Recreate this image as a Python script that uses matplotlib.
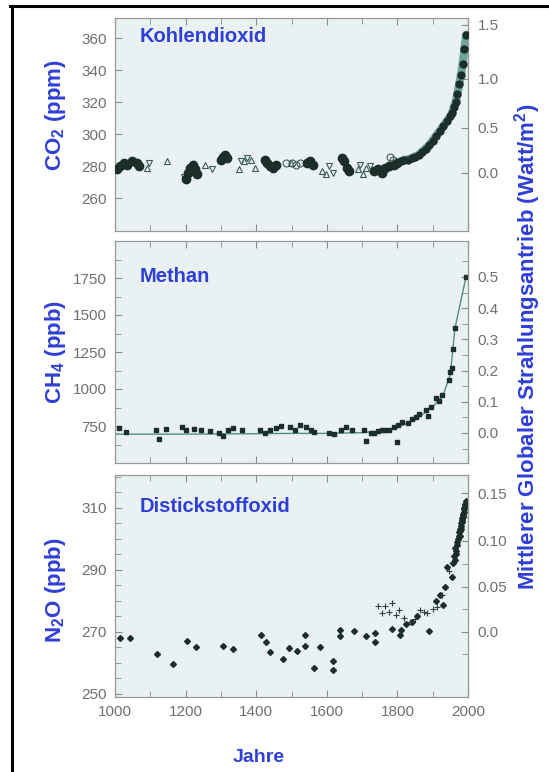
import numpy as np
import matplotlib.pyplot as plt
from matplotlib.ticker import MultipleLocator, FixedLocator, FixedFormatter
from matplotlib.lines import Line2D

plt.rcParams['font.family'] = ['Liberation Sans', 'DejaVu Sans']
plt.rcParams['mathtext.fontset'] = 'custom'
plt.rcParams['mathtext.rm'] = 'Liberation Sans:bold'
plt.rcParams['mathtext.it'] = 'Liberation Sans:bold'
plt.rcParams['mathtext.bf'] = 'Liberation Sans:bold'
plt.rcParams['mathtext.default'] = 'rm'

# --- CO2 (ppm) ---
co2_dome_years = [1006, 1015, 1025, 1035, 1048, 1062, 1068, 1200, 1207, 1213, 1220, 1226, 1232,
                  1300, 1306, 1312, 1318, 1424, 1432, 1440, 1447, 1455, 1545, 1552, 1560,
                  1644, 1650, 1656, 1662, 1735, 1745, 1755, 1765, 1775, 1790, 1798]
co2_dome = [278, 280, 282, 281, 283, 282, 280, 272, 276, 279, 281, 278, 275,
            284, 286, 287, 285, 284, 282, 280, 279, 281, 282, 283, 281,
            285, 283, 279, 277, 277, 278, 276, 279, 280, 281, 282]
co2_up_years = [1090, 1148, 1255, 1350, 1365, 1385, 1398, 1498, 1585, 1598, 1688, 1702, 1712]
co2_up = [279, 283, 281, 278, 283, 284, 279, 282, 277, 275, 278, 275, 279]
co2_dn_years = [1095, 1195, 1275, 1358, 1375, 1605, 1618, 1695, 1722]
co2_dn = [282, 273, 278, 283, 285, 280, 276, 281, 280]
co2_circ_years = [1485, 1500, 1512, 1525, 1778, 1788]
co2_circ = [282, 282, 281, 282, 286, 284]
co2_modern_years = [1800, 1810, 1820, 1830, 1840, 1850, 1860, 1870, 1880, 1890, 1900, 1910,
                    1920, 1930, 1940, 1950, 1955, 1960, 1965, 1970, 1975, 1980, 1985, 1990, 1995]
co2_modern = [282, 283, 284, 284, 285, 286, 287, 289, 291, 293, 296, 299,
              302, 305, 308, 311, 313, 317, 320, 325, 331, 337, 344, 353, 362]

# --- CH4 (ppb) ---
ch4_years = [1010, 1030, 1115, 1125, 1145, 1190, 1200, 1225, 1245, 1270, 1295, 1305, 1320, 1335,
             1360, 1410, 1425, 1440, 1455, 1470, 1495, 1510, 1525, 1540, 1555, 1565, 1605, 1620,
             1640, 1655, 1670, 1705, 1712, 1725, 1735, 1745, 1755, 1765, 1775, 1790, 1800, 1803,
             1812, 1830, 1840, 1852, 1862, 1880, 1888, 1895, 1910, 1918, 1925, 1945, 1949, 1955,
             1958, 1963, 1994]
ch4 = [735, 710, 720, 660, 730, 745, 725, 730, 720, 715, 700, 680, 725, 735,
       720, 720, 700, 725, 735, 750, 740, 725, 755, 740, 720, 710, 705, 695,
       725, 740, 725, 720, 650, 700, 705, 715, 720, 720, 725, 740, 640, 760,
       780, 770, 800, 810, 830, 860, 820, 880, 940, 920, 960, 1060, 1115, 1140,
       1270, 1410, 1755]
ch4_line_years = [1000, 1100, 1200, 1300, 1400, 1500, 1600, 1700, 1750, 1800, 1850, 1900,
                  1930, 1950, 1963, 1994]
ch4_line = [695, 695, 695, 697, 698, 700, 700, 705, 715, 740, 790, 880, 960, 1100, 1410, 1755]

# --- N2O (ppb) ---
n2o_dot_years = [1014, 1042, 1119, 1164, 1204, 1229, 1306, 1334, 1413, 1428, 1440, 1475, 1492,
                 1515, 1538, 1538, 1564, 1580, 1617, 1617, 1636, 1637, 1677, 1711, 1737, 1737,
                 1784, 1808, 1810, 1825, 1840, 1855, 1889, 1909, 1921, 1929, 1935, 1940, 1954]
n2o_dot = [268.0, 268.0, 262.8, 259.6, 267.0, 265.1, 265.4, 264.4, 269.1, 266.8, 263.4, 261.2,
           264.7, 263.7, 269.1, 265.4, 258.3, 265.1, 260.5, 257.6, 268.5, 270.5, 270.2, 268.6,
           269.6, 266.7, 270.9, 268.9, 270.5, 272.5, 273.0, 275.0, 270.2, 280.0, 281.9, 278.6,
           284.5, 290.9, 287.7]
n2o_plus_years = [1745, 1755, 1765, 1775, 1785, 1795, 1805, 1820, 1835, 1850, 1865, 1875, 1884,
                  1900, 1912, 1925, 1945, 1955]
n2o_plus = [278.3, 276.0, 278.3, 276.5, 279.3, 275.5, 276.9, 274.5, 273.0, 274.0, 277.0, 276.5,
            276.0, 277.5, 278.0, 282.0, 289.5, 292.2]
n2o_modern_years = [1958, 1960, 1962, 1964, 1965, 1966, 1968, 1970, 1972, 1974, 1975, 1976, 1977,
                    1978, 1979, 1980, 1981, 1982, 1983, 1984, 1985, 1986, 1987, 1988, 1989, 1990,
                    1991, 1992, 1993]
n2o_modern = [292, 294.5, 293, 297, 296, 295, 298, 299, 300, 301, 302, 301, 303,
              302.5, 304, 303, 305, 305.5, 306, 306.5, 307, 307.5, 308, 308.5, 309.5, 310,
              310.5, 311, 312]

blue = '#2f3fd6'
grey = '#707070'
dark = '#1c2e2a'
bg = '#e9f1f3'

W, H = 549, 772


def box(l, t, r, b):
    return [l / W, 1 - b / H, (r - l) / W, (b - t) / H]


fig = plt.figure(figsize=(W / 100, H / 100), dpi=100)
ax1 = fig.add_axes(box(115, 18, 468, 231))
ax2 = fig.add_axes(box(115, 241, 468, 463))
ax3 = fig.add_axes(box(115, 475, 468, 697))


def style(ax):
    ax.set_facecolor(bg)
    ax.set_xlim(1000, 2000)
    ax.xaxis.set_major_locator(MultipleLocator(200))
    ax.xaxis.set_minor_locator(MultipleLocator(100))
    for s in ax.spines.values():
        s.set_color('#9a9a9a')
        s.set_linewidth(0.9)
    ax.tick_params(which='both', direction='in', top=True, color='#8a8a8a',
                   labelcolor=grey, labelsize=11, pad=6)
    ax.tick_params(which='major', length=5)
    ax.tick_params(which='minor', length=4)


for ax in (ax1, ax2, ax3):
    style(ax)

# CO2 panel
ax1.plot(co2_modern_years, co2_modern, color='#6fa69b', lw=6, solid_capstyle='round', zorder=2)
ax1.plot(co2_modern_years, co2_modern, 'o', color=dark, ms=5, zorder=3)
ax1.plot(co2_dome_years, co2_dome, 'o', color=dark, ms=6, zorder=3)
ax1.plot(co2_up_years, co2_up, '^', mfc='none', mec='#3d5a53', ms=5, mew=0.8)
ax1.plot(co2_dn_years, co2_dn, 'v', mfc='none', mec='#3d5a53', ms=5, mew=0.8)
ax1.plot(co2_circ_years, co2_circ, 'o', mfc='none', mec='#3d5a53', ms=5, mew=0.8)
ax1.set_ylim(239.5, 372.5)
ax1.yaxis.set_major_locator(MultipleLocator(20))
ax1.set_yticks([260, 280, 300, 320, 340, 360])
ax1.tick_params(labelbottom=False)

# CH4 panel
ax2.plot(ch4_line_years, ch4_line, color='#4f8f80', lw=1)
ax2.plot(ch4_years, ch4, 's', color=dark, ms=3.2)
ax2.set_ylim(500, 2000)
ax2.set_yticks([750, 1000, 1250, 1500, 1750])
ax2.yaxis.set_minor_locator(MultipleLocator(125))
ax2.tick_params(labelbottom=False)

# N2O panel
ax3.plot(n2o_dot_years, n2o_dot, 'D', color=dark, ms=3)
ax3.plot(n2o_plus_years, n2o_plus, '+', color='#2f3f3b', ms=5, mew=0.8)
ax3.plot(n2o_modern_years, n2o_modern, 'D', color=dark, ms=3)
ax3.set_ylim(249, 320.5)
ax3.set_yticks([250, 270, 290, 310])
ax3.yaxis.set_minor_locator(MultipleLocator(5))

# right-hand forcing axes
s1 = ax1.secondary_yaxis('right', functions=(lambda c: 5.2 * np.log(np.clip(c, 1.0, None) / 276.0),
                                              lambda f: 276.0 * np.exp(f / 5.2)))
s1.yaxis.set_major_locator(FixedLocator([0.0, 0.5, 1.0, 1.5]))
s1.yaxis.set_major_formatter(FixedFormatter(['0.0', '0.5', '1.0', '1.5']))

s2 = ax2.secondary_yaxis('right', functions=(lambda c: (c - 703.0) / 2108.0,
                                              lambda f: f * 2108.0 + 703.0))
s2.yaxis.set_major_locator(FixedLocator([0.0, 0.1, 0.2, 0.3, 0.4, 0.5]))
s2.yaxis.set_major_formatter(FixedFormatter(['0.0', '0.1', '0.2', '0.3', '0.4', '0.5']))
s2.yaxis.set_minor_locator(FixedLocator([-0.05, 0.05, 0.15, 0.25, 0.35, 0.45, 0.55]))

r270 = np.sqrt(270.0)
s3 = ax3.secondary_yaxis('right', functions=(lambda c: 0.115 * (np.sqrt(np.clip(c, 0, None)) - r270),
                                              lambda f: (np.asarray(f) / 0.115 + r270) ** 2))
s3.yaxis.set_major_locator(FixedLocator([0.0, 0.05, 0.10, 0.15]))
s3.yaxis.set_major_formatter(FixedFormatter(['0.0', '0.05', '0.10', '0.15']))
s3.yaxis.set_minor_locator(FixedLocator([-0.025, 0.025, 0.075, 0.125]))

for s in (s1, s2, s3):
    s.spines['right'].set_color('#9a9a9a')
    s.tick_params(which='both', direction='in', color='#8a8a8a', labelcolor=grey,
                  labelsize=11, pad=7)
    s.tick_params(which='major', length=5)
    s.tick_params(which='minor', length=4)

# panel titles
for ax, name, yy in ((ax1, 'Kohlendioxid', 0.911), (ax2, 'Methan', 0.838),
                     (ax3, 'Distickstoffoxid', 0.856)):
    ax.text(0.071, yy, name, transform=ax.transAxes, color=blue, fontsize=14.5,
            fontweight='bold', va='center', ha='left')

# axis labels
lab = dict(color=blue, fontsize=16, fontweight='bold', rotation=90, ha='center', va='center')
fig.text(55 / W, 1 - 115 / H, 'CO$_2$ (ppm)', **lab)
fig.text(55 / W, 1 - 352 / H, 'CH$_4$ (ppb)', **lab)
fig.text(55 / W, 1 - 590 / H, 'N$_2$O (ppb)', **lab)
fig.text(528 / W, 1 - 347 / H, 'Mittlerer Globaler Strahlungsantrieb (Watt/m$^2$)', **lab)
fig.text(259 / W, 1 - 757 / H, 'Jahre', color=blue, fontsize=14, fontweight='bold',
         ha='center', va='center')

# partial frame
fig.add_artist(Line2D([10 / W, 1], [1 - 6 / H, 1 - 6 / H], color='black', lw=2.2,
                      transform=fig.transFigure))
fig.add_artist(Line2D([11.5 / W, 11.5 / W], [0, 1 - 6 / H], color='black', lw=2.2,
                      transform=fig.transFigure))

fig.savefig('out.png', dpi=100)
